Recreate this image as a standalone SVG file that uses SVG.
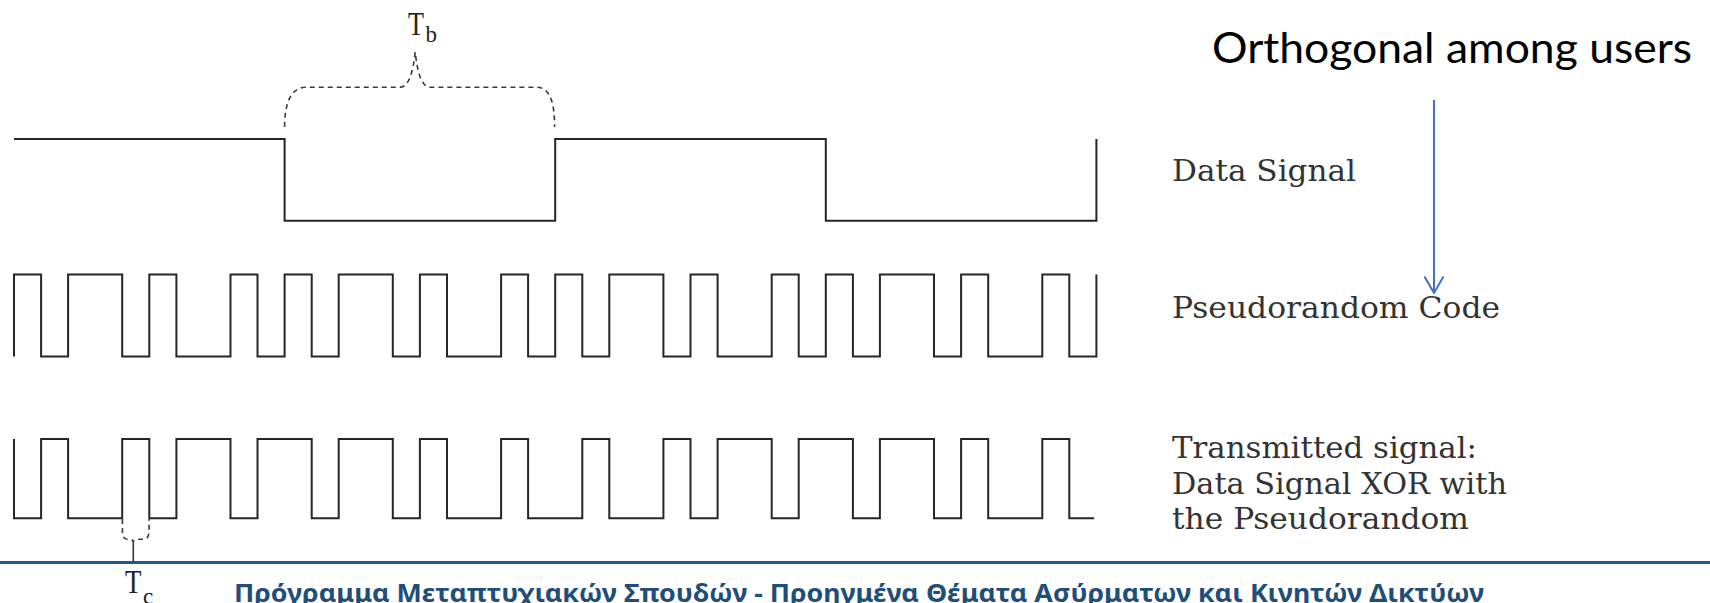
<svg xmlns="http://www.w3.org/2000/svg" width="1710" height="603" viewBox="0 0 1710 603">
  <style>
    .sig { fill: none; stroke: #262626; stroke-width: 2; stroke-linejoin: miter; }
    .brace { fill: none; stroke: #3a3a3a; stroke-width: 1.6; stroke-dasharray: 5 4; }
    .lbl { font-family: "DejaVu Serif", "Liberation Serif", serif; font-size: 30px; fill: #333333; }
    .math { font-family: "Liberation Serif", "DejaVu Serif", serif; fill: #222; }
    .note { font-family: Lato, "Open Sans", "Noto Sans", sans-serif; font-size: 42px; fill: #000; }
    .footer { font-family: "Noto Sans", "Open Sans", sans-serif; font-weight: bold; font-size: 25px; fill: #1f4e79; }
  </style>
  <defs>
    <marker id="openArrow" viewBox="0 0 18 21" markerWidth="18" markerHeight="21" refX="17" refY="10.5" orient="auto" markerUnits="userSpaceOnUse">
      <path d="M0.5,1 L17,10.5 L0.5,20" fill="none" stroke="#4472c4" stroke-width="2"/>
    </marker>
  </defs>
  <rect x="0" y="0" width="1710" height="603" fill="#ffffff"/>

  <g id="data-signal">
    <path class="sig" d="M14,139 H284.6 V220.7 H555.2 V139 H825.8 V220.7 H1096.4 V139"/>
    <text class="lbl" x="1172" y="181" textLength="184" lengthAdjust="spacingAndGlyphs">Data Signal</text>
  </g>

  <g id="pseudorandom-code">
    <path class="sig" d="M14,356.5 V274.5 H41.1 V356.5 H68.1 V274.5 H122.2 V356.5 H149.3 V274.5 H176.4 V356.5 H230.5 V274.5 H257.5 V356.5 H284.6 V274.5 H311.7 V356.5 H338.7 V274.5 H392.8 V356.5 H419.9 V274.5 H447 V356.5 H501.1 V274.5 H528.1 V356.5 H555.2 V274.5 H582.3 V356.5 H609.3 V274.5 H663.4 V356.5 H690.5 V274.5 H717.6 V356.5 H771.7 V274.5 H798.7 V356.5 H825.8 V274.5 H852.9 V356.5 H879.9 V274.5 H934 V356.5 H961.1 V274.5 H988.2 V356.5 H1042.3 V274.5 H1069.3 V356.5 H1096.4 V274.5"/>
    <text class="lbl" x="1172" y="318" textLength="328" lengthAdjust="spacingAndGlyphs">Pseudorandom Code</text>
  </g>

  <g id="transmitted-signal">
    <path class="sig" d="M14,439 V518.3 H41.1 V439 H68.1 V518.3 H122.2 V439 H149.3 V518.3 H176.4 V439 H230.5 V518.3 H257.5 V439 H311.7 V518.3 H338.7 V439 H392.8 V518.3 H419.9 V439 H447 V518.3 H501.1 V439 H528.1 V518.3 H582.3 V439 H609.3 V518.3 H663.4 V439 H690.5 V518.3 H717.6 V439 H771.7 V518.3 H798.7 V439 H852.9 V518.3 H879.9 V439 H934 V518.3 H961.1 V439 H988.2 V518.3 H1042.3 V439 H1069.3 V518.3 H1094"/>
    <text class="lbl" x="1172" y="458" textLength="305" lengthAdjust="spacingAndGlyphs">Transmitted signal:</text>
    <text class="lbl" x="1172" y="494" textLength="335" lengthAdjust="spacingAndGlyphs">Data Signal XOR with</text>
    <text class="lbl" x="1172" y="529" textLength="297" lengthAdjust="spacingAndGlyphs">the Pseudorandom</text>
  </g>

  <g id="bit-period-tb">
    <path class="brace" d="M284.6,127 C284.6,105 290,88 305,87.3 H400 C409,87 413,72 415.2,52 C417.5,72 421,87 430.5,87.3 H537.5 C551,88 554.6,105 554.6,127"/>
    <text class="math"><tspan x="408" y="35" font-size="34" textLength="16" lengthAdjust="spacingAndGlyphs">T</tspan><tspan x="425.5" y="42" font-size="23">b</tspan></text>
  </g>

  <g id="chip-period-tc">
    <path class="brace" d="M122.4,519 V531 C122.4,536 124,539.3 127,539.3 H130 C132,539.3 133.3,541 133.3,542 C133.3,541 134.6,539.3 136.6,539.3 H144 C147,539.3 149.1,536 149.1,531 V519"/>
    <line x1="133.3" y1="542" x2="133.3" y2="561" stroke="#333" stroke-width="1.6"/>
    <text class="math"><tspan x="125" y="593.3" font-size="34" textLength="16.5" lengthAdjust="spacingAndGlyphs">T</tspan><tspan x="143" y="604" font-size="23">c</tspan></text>
  </g>

  <g id="orthogonal-note">
    <text class="note" x="1212" y="63" textLength="480" lengthAdjust="spacingAndGlyphs">Orthogonal among users</text>
  </g>

  <g id="connectors">
    <line x1="1434" y1="100" x2="1434" y2="293" stroke="#4472c4" stroke-width="2" marker-end="url(#openArrow)"/>
  </g>

  <g id="footer">
    <line x1="0" y1="562.5" x2="1710" y2="562.5" stroke="#1f5a8f" stroke-width="3"/>
    <text class="footer" x="234" y="602" textLength="1250" lengthAdjust="spacingAndGlyphs">Πρόγραμμα Μεταπτυχιακών Σπουδών - Προηγμένα Θέματα Ασύρματων και Κινητών Δικτύων</text>
  </g>
</svg>
